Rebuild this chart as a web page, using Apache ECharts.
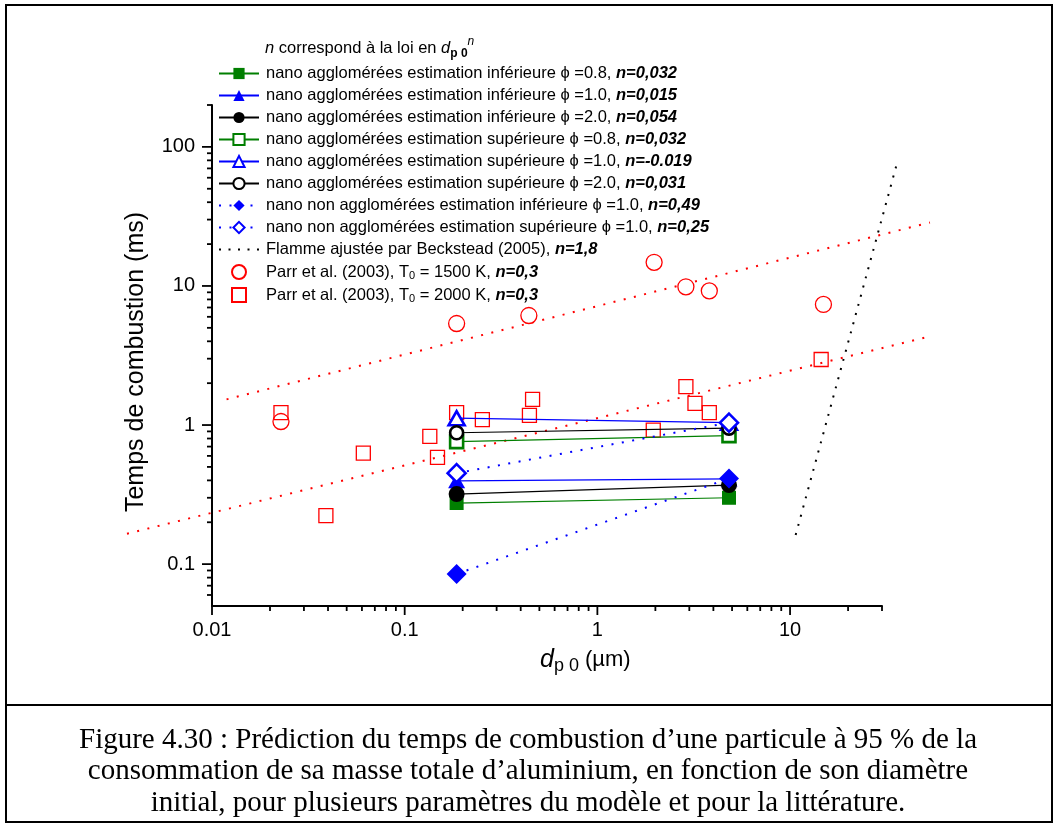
<!DOCTYPE html>
<html><head><meta charset="utf-8">
<script src="https://cdn.jsdelivr.net/npm/echarts@6/dist/echarts.min.js"></script>
<style>html,body{margin:0;padding:0;background:#fff}#c{width:1057px;height:827px}</style>
</head><body><div id="c"></div>
<script>
// ---- axes ----
const X_MIN = 0.01, X_MAX = 30, Y_MIN = 0.05, Y_MAX = 200;
const xMajorTicks = [0.01, 0.1, 1, 10];
const xMinorTicks = [0.02,0.03,0.04,0.05,0.06,0.07,0.08,0.09,0.2,0.3,0.4,0.5,0.6,0.7,0.8,0.9,2,3,4,5,6,7,8,9,20,30];
const yMajorTicks = [0.1, 1, 10, 100];
const yMinorTicks = [0.06,0.07,0.08,0.09,0.2,0.3,0.4,0.5,0.6,0.7,0.8,0.9,2,3,4,5,6,7,8,9,20,30,40,50,60,70,80,90,200];

// ---- model (two diameters) ----
const dModel = [0.186, 4.82];
const aggInfPhi08 = [0.275, 0.30];
const aggInfPhi10 = [0.397, 0.41];
const aggInfPhi20 = [0.319, 0.37];
const aggSupPhi08 = [0.76, 0.84];
const aggSupPhi10 = [1.12, 1.04];
const aggSupPhi20 = [0.88, 0.95];
const nonAggInf = [0.085, 0.413];
const nonAggSup = [0.451, 1.04];

// ---- literature ----
const becksteadX = [10.69, 35.7];
const becksteadY = [0.162, 74.3];
const parr1500X = [0.0228, 0.186, 0.441, 1.97, 2.88, 3.81, 14.9];
const parr1500Y = [1.06, 5.37, 6.13, 14.8, 9.86, 9.22, 7.36];
const parr2000X = [0.0228, 0.039, 0.061, 0.135, 0.148, 0.186, 0.253, 0.444, 0.461, 1.95, 2.88, 3.21, 3.81, 14.5];
const parr2000Y = [1.23, 0.223, 0.628, 0.83, 0.585, 1.23, 1.094, 1.175, 1.53, 0.92, 1.89, 1.43, 1.23, 2.96];
const fit1500X = [0.0119, 53.2];
const fit1500Y = [1.53, 28.6];
const fit2000X = [0.00362, 53.2];
const fit2000Y = [0.1656, 4.34];

// ---- legend texts ----
const legendLabels = [
  'nano agglomérées estimation inférieure ϕ =0.8, ',
  'nano agglomérées estimation inférieure ϕ =1.0, ',
  'nano agglomérées estimation inférieure ϕ =2.0, ',
  'nano agglomérées estimation supérieure ϕ =0.8, ',
  'nano agglomérées estimation supérieure ϕ =1.0, ',
  'nano agglomérées estimation supérieure ϕ =2.0, ',
  'nano non agglomérées estimation inférieure ϕ =1.0, ',
  'nano non agglomérées estimation supérieure ϕ =1.0, ',
  'Flamme ajustée par Beckstead (2005), ',
  'Parr et al. (2003), T0 = 1500 K, ',
  'Parr et al. (2003), T0 = 2000 K, '
];
const legendN = ['n=0,032','n=0,015','n=0,054','n=0,032','n=-0.019','n=0,031','n=0,49','n=0,25','n=1,8','n=0,3','n=0,3'];
const names = legendLabels.map((l, i) => l + legendN[i]);
const yTitle = 'Temps de combustion (ms)';
const captionLines = [
  'Figure 4.30 : Prédiction du temps de combustion d’une particule à 95 % de la',
  'consommation de sa masse totale d’aluminium, en fonction de son diamètre',
  'initial, pour plusieurs paramètres du modèle et pour la littérature.'
];

const FONT = "'Liberation Sans', Arial, sans-serif";
const SERIF = "'Liberation Serif', 'Times New Roman', serif";
const GREEN = '#007f00', BLUE = '#0000ff', RED = '#ff0000', BLACK = '#000000';

const pair = (xs, ys) => xs.map((x, i) => [x, ys[i]]);

function modelSeries(i, ys, color, symbol, size, filled, dotted) {
  return {
    name: names[i], type: 'line', data: pair(dModel, ys),
    symbol: symbol, symbolSize: size, showSymbol: true, clip: false, z: 3 + i * 0.01,
    lineStyle: dotted ? {color: color, width: 2, type: [2, 8.5]} : {color: color, width: 1.2},
    itemStyle: filled ? {color: color, borderWidth: 0} : {color: '#ffffff', borderColor: color, borderWidth: 2.6},
    emphasis: {disabled: true}
  };
}

// map a (possibly out-of-range) log/log point to pixels using the axes' own coordinates of the corners
function toPixel(api, x, y) {
  const a = api.coord([X_MIN, Y_MIN]), b = api.coord([X_MAX, Y_MAX]);
  const fx = (Math.log10(x) - Math.log10(X_MIN)) / (Math.log10(X_MAX) - Math.log10(X_MIN));
  const fy = (Math.log10(y) - Math.log10(Y_MIN)) / (Math.log10(Y_MAX) - Math.log10(Y_MIN));
  return [a[0] + fx * (b[0] - a[0]), a[1] + fy * (b[1] - a[1])];
}

function dottedLineSeries(xs, ys, color, gap) {
  return {
    type: 'custom', silent: true, clip: false, z: 1,
    encode: {x: [0, 2], y: [1, 3]},
    data: [[xs[0], ys[0], xs[1], ys[1]]],
    renderItem: (params, api) => {
      const p1 = toPixel(api, api.value(0), api.value(1));
      const p2 = toPixel(api, api.value(2), api.value(3));
      return {type: 'line', shape: {x1: p1[0], y1: p1[1], x2: p2[0], y2: p2[1]},
        style: {stroke: color, lineWidth: 2, lineDash: [2, gap], lineCap: 'butt'}};
    }
  };
}

function tickSeries(values, axis, len) {
  return {
    type: 'custom', silent: true, clip: false, z: 10,
    data: values.map(v => axis === 'x' ? [v, Y_MIN] : [X_MIN, v]),
    renderItem: (params, api) => {
      const p = api.coord([api.value(0), api.value(1)]);
      const shape = axis === 'x'
        ? {x1: p[0], y1: p[1], x2: p[0], y2: p[1] + len}
        : {x1: p[0] - len, y1: p[1], x2: p[0], y2: p[1]};
      return {type: 'line', shape: shape, style: {stroke: '#000', lineWidth: 1.8}};
    }
  };
}

const captionGraphics = captionLines.map((t, i) => ({
  type: 'text', x: 528, y: 740 + i * 31.5, silent: true,
  style: {text: t, fontFamily: SERIF, fontSize: 29, fill: '#000', align: 'center', verticalAlign: 'middle'}
}));

const chart = echarts.init(document.getElementById('c'), null, {renderer: 'canvas'});
chart.setOption({
  animation: false,
  backgroundColor: '#ffffff',
  grid: {left: 212, top: 105, right: 175, bottom: 221, containLabel: false, outerBoundsMode: 'none'},
  xAxis: {
    type: 'log', logBase: 10, min: X_MIN, max: X_MAX,
    axisLine: {show: true, onZero: false, lineStyle: {color: '#000', width: 2}},
    axisTick: {show: false},
    splitLine: {show: false},
    axisLabel: {showMinLabel: true, showMaxLabel: false, color: '#000', fontFamily: FONT, fontSize: 20, margin: 14}
  },
  yAxis: {
    type: 'log', logBase: 10, min: Y_MIN, max: Y_MAX,
    axisLine: {show: true, onZero: false, lineStyle: {color: '#000', width: 2}},
    axisTick: {show: false},
    splitLine: {show: false},
    axisLabel: {showMinLabel: false, showMaxLabel: false, color: '#000', fontFamily: FONT, fontSize: 20, margin: 17}
  },
  legend: {
    data: names.map((n, i) => i === 10 ? {name: n, icon: 'path://M0,0H10V10H0Z'} : {name: n}),
    orient: 'vertical', left: 218, top: 65,
    itemWidth: 40, itemHeight: 14, itemGap: 5, padding: 0,
    selectedMode: false,
    textStyle: {
      color: '#000', fontFamily: FONT, fontSize: 16.5, padding: [0, 0, 0, 2],
      rich: {
        t: {fontFamily: FONT, fontSize: 16.5, color: '#000'},
        b: {fontFamily: FONT, fontSize: 16.5, color: '#000', fontWeight: 'bold', fontStyle: 'italic'},
        s: {fontFamily: FONT, fontSize: 11, color: '#000', lineHeight: 10, padding: [7, 0, 0, 0]}
      }
    },
    formatter: function (name) {
      const i = names.indexOf(name);
      return '{t|' + legendLabels[i].replace('T0', 'T}{s|0}{t|') + '}{b|' + legendN[i] + '}';
    }
  },
  graphic: [
    {type: 'rect', shape: {x: 6, y: 5, width: 1046, height: 817}, style: {fill: 'none', stroke: '#000', lineWidth: 2}, silent: true},
    {type: 'line', shape: {x1: 6, y1: 705, x2: 1052, y2: 705}, style: {stroke: '#000', lineWidth: 2}, silent: true},
    {type: 'text', x: 265, y: 48, silent: true, style: {
      text: '{i|n}{t| correspond à la loi en }{i|d}{sb|p 0}{sp|n}', verticalAlign: 'middle',
      rich: {
        t: {fontFamily: FONT, fontSize: 16.5, fill: '#000', lineHeight: 24},
        i: {fontFamily: FONT, fontSize: 16.5, fill: '#000', fontStyle: 'italic', lineHeight: 24},
        sb: {fontFamily: FONT, fontSize: 12, fill: '#000', fontWeight: 'bold', lineHeight: 11, verticalAlign: 'bottom'},
        sp: {fontFamily: FONT, fontSize: 12, fill: '#000', fontStyle: 'italic', lineHeight: 11, verticalAlign: 'top'}
      }}},
    {type: 'text', x: 136, y: 362, rotation: Math.PI / 2, silent: true, style: {
      text: yTitle, fontFamily: FONT, fontSize: 25, fill: '#000', align: 'center', verticalAlign: 'middle'}},
    {type: 'text', x: 540, y: 660, silent: true, style: {
      text: '{i|d}{s|p 0}{t| (µm)}', verticalAlign: 'middle',
      rich: {
        i: {fontFamily: FONT, fontSize: 25, fill: '#000', fontStyle: 'italic', lineHeight: 30},
        s: {fontFamily: FONT, fontSize: 18, fill: '#000', lineHeight: 15, verticalAlign: 'bottom'},
        t: {fontFamily: FONT, fontSize: 22, fill: '#000', lineHeight: 30}
      }}}
  ].concat(captionGraphics),
  series: [
    dottedLineSeries(fit1500X, fit1500Y, RED, 8.5),
    dottedLineSeries(fit2000X, fit2000Y, RED, 8.5),
    dottedLineSeries(becksteadX, becksteadY, BLACK, 7.5),
    {name: names[9], type: 'scatter', data: pair(parr1500X, parr1500Y), symbol: 'circle', symbolSize: 16, clip: false, z: 2,
     itemStyle: {color: '#ffffff', borderColor: RED, borderWidth: 1.3, opacity: 1}, emphasis: {disabled: true}},
    {name: names[10], type: 'scatter', data: pair(parr2000X, parr2000Y), symbol: 'rect', symbolSize: 14, clip: false, z: 2,
     itemStyle: {color: 'rgba(255,255,255,0)', borderColor: RED, borderWidth: 1.3, opacity: 1}, emphasis: {disabled: true}},
    // legend entry for the Beckstead flame line (the line itself is drawn by the custom series above)
    {name: names[8], type: 'line', data: [], symbol: 'circle', showSymbol: false, z: 2,
     lineStyle: {color: BLACK, width: 2, type: [2, 7.5]}, itemStyle: {color: 'rgba(0,0,0,0)', borderWidth: 0}, emphasis: {disabled: true}},
    modelSeries(0, aggInfPhi08, GREEN, 'rect', 14, true, false),
    modelSeries(1, aggInfPhi10, BLUE, 'triangle', [17, 15], true, false),
    modelSeries(2, aggInfPhi20, BLACK, 'circle', 16, true, false),
    modelSeries(3, aggSupPhi08, GREEN, 'rect', 13, false, false),
    modelSeries(4, aggSupPhi10, BLUE, 'triangle', [16, 14], false, false),
    modelSeries(5, aggSupPhi20, BLACK, 'circle', 13, false, false),
    modelSeries(6, nonAggInf, BLUE, 'diamond', [20, 20], true, true),
    modelSeries(7, nonAggSup, BLUE, 'diamond', [18, 18], false, true),
    tickSeries(xMajorTicks, 'x', 9),
    tickSeries(xMinorTicks, 'x', 5),
    tickSeries(yMajorTicks, 'y', 10),
    tickSeries(yMinorTicks, 'y', 5)
  ]
});
</script></body></html>
